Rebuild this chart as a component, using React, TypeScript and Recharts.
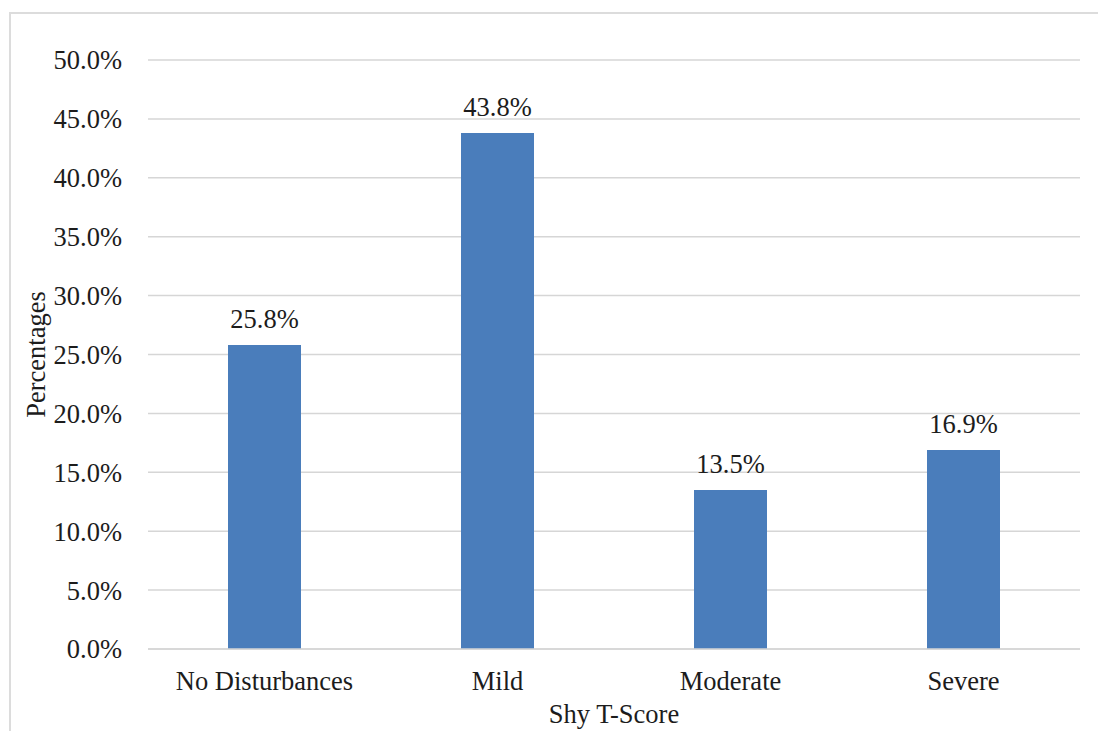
import { BarChart, Bar, XAxis, YAxis, CartesianGrid, LabelList, Label } from 'recharts';

const categories = ['No Disturbances', 'Mild', 'Moderate', 'Severe'];
const percentages = [25.8, 43.8, 13.5, 16.9];
const yTicks = [0, 5, 10, 15, 20, 25, 30, 35, 40, 45, 50];

const data = categories.map((name, i) => ({ name, value: percentages[i] }));

const FONT = '"Liberation Serif", "Times New Roman", serif';
const TEXT = '#1c1c1c';
const GRID = '#d6d6d6';
const BAR = '#4a7dbb';
const FS = 26.5;

const pct = (v: number) => `${Number(v).toFixed(1)}%`;

function XTick({ x, y, payload }: any) {
  return (
    <text x={x} y={y} dy="0.71em" textAnchor="middle" fontSize={FS} fill={TEXT} fontFamily={FONT}>
      {payload.value}
    </text>
  );
}

function YTick({ x, y, payload }: any) {
  return (
    <text x={x} y={y} dy="0.355em" textAnchor="end" fontSize={FS} fill={TEXT} fontFamily={FONT}>
      {pct(payload.value)}
    </text>
  );
}

function ValueLabel({ x, y, width, value }: any) {
  return (
    <text x={x + width / 2} y={y - 17} textAnchor="middle" fontSize={FS} fill={TEXT} fontFamily={FONT}>
      {pct(value)}
    </text>
  );
}

export default function App() {
  return (
    <div
      style={{
        position: 'absolute',
        left: 0,
        top: 0,
        width: 1098,
        height: 731,
        overflow: 'hidden',
        background: '#fff',
        fontFamily: FONT,
      }}
    >
      {/* chart frame */}
      <div
        style={{
          position: 'absolute',
          left: 9,
          top: 12,
          width: 1200,
          height: 900,
          border: '2px solid #dcdcdc',
          boxSizing: 'border-box',
        }}
      />
      <BarChart
        width={1098}
        height={731}
        data={data}
        margin={{ top: 60, right: 18, bottom: 0, left: 0 }}
        barSize={73}
        style={{ position: 'absolute', left: 0, top: 0 }}
      >
        <CartesianGrid vertical={false} stroke={GRID} strokeWidth={1.5} />
        <XAxis
          dataKey="name"
          height={82}
          axisLine={{ stroke: GRID, strokeWidth: 1.5 }}
          tickLine={false}
          tickSize={0}
          tickMargin={22}
          tick={<XTick />}
        >
          <Label
            content={({ viewBox }: any) => (
              <text
                x={viewBox.x + viewBox.width / 2}
                y={723}
                textAnchor="middle"
                fontSize={FS}
                fill={TEXT}
                fontFamily={FONT}
              >
                Shy T-Score
              </text>
            )}
          />
        </XAxis>
        <YAxis
          width={148}
          domain={[0, 50]}
          ticks={yTicks}
          interval={0}
          axisLine={false}
          tickLine={false}
          tickSize={0}
          tickMargin={26}
          tick={<YTick />}
        >
          <Label
            content={({ viewBox }: any) => (
              <text
                transform={`translate(${viewBox.x + 45}, ${viewBox.y + viewBox.height / 2}) rotate(-90)`}
                textAnchor="middle"
                fontSize={FS}
                fill={TEXT}
                fontFamily={FONT}
              >
                Percentages
              </text>
            )}
          />
        </YAxis>
        <Bar dataKey="value" fill={BAR} isAnimationActive={false}>
          <LabelList dataKey="value" content={<ValueLabel />} />
        </Bar>
      </BarChart>
    </div>
  );
}
